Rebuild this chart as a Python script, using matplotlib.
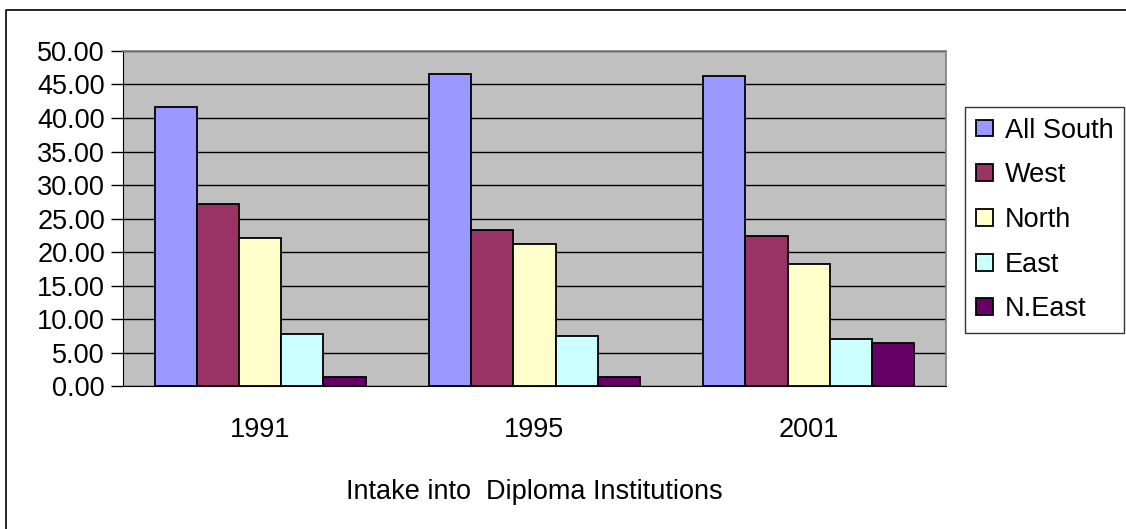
#/usr/bin/python

import matplotlib
matplotlib.use('Agg')
import matplotlib.pyplot as plt
from matplotlib.lines import Line2D
import numpy as np

plt.rcParams['font.family'] = ['Liberation Sans', 'DejaVu Sans']

years = ['1991', '1995', '2001']
series = ['All South', 'West', 'North', 'East', 'N.East']
all_south = [41.6, 46.6, 46.25]
west = [27.1, 23.25, 22.35]
north = [22.05, 21.25, 18.25]
east = [7.8, 7.5, 6.95]
neast = [1.35, 1.35, 6.4]
colors = ['#9999FF', '#993366', '#FFFFCC', '#CCFFFF', '#660066']

values = [all_south, west, north, east, neast]
fs = 19.5

fig = plt.figure(figsize=(11.26, 5.29), dpi=100)
# chart area border (only top and left visible in the crop)
fig.lines.append(Line2D([0.0053, 0.0053, 1.0], [0.0, 0.981, 0.981], transform=fig.transFigure,
                        color='black', linewidth=1.2))
ax = fig.add_axes([0.1092, 0.2703, 0.7309, 0.6333])
ax.set_facecolor('#C0C0C0')

x = np.arange(len(years))
w = 0.77 / 5
for i in range(len(series)):
	ax.bar(x - 0.385 + w * (i + 0.5), values[i], w, color=colors[i],
	       edgecolor='black', linewidth=1.3, label=series[i], zorder=3)

ax.set_xlim(-0.5, 2.5)
ax.set_ylim(0, 50)
ax.set_yticks(np.arange(0, 51, 5))
ax.set_yticklabels(['%.2f' % v for v in np.arange(0, 51, 5)], fontsize=fs)
ax.set_xticks(x)
ax.set_xticklabels(years, fontsize=fs)
ax.tick_params(axis='x', length=0, pad=22)
ax.tick_params(axis='y', length=9, width=1, pad=4, direction='out')
ax.yaxis.grid(True, color='black', linewidth=1)
ax.set_axisbelow(True)
for s in ['top', 'right']:
	ax.spines[s].set_color('#808080')
	ax.spines[s].set_linewidth(1.2)
ax.spines['left'].set_color('black')
ax.spines['bottom'].set_color('black')
ax.set_xlabel('Intake into  Diploma Institutions', fontsize=fs, labelpad=26)

leg = fig.legend(loc='upper left', bbox_to_anchor=(0.857, 0.7977), fontsize=fs,
                 frameon=True, fancybox=False, edgecolor='black', handlelength=0.63,
                 handleheight=0.58, handletextpad=0.44, labelspacing=0.69, borderpad=0.39,
                 borderaxespad=0)
leg.get_frame().set_linewidth(1.0)

plt.savefig('out.png', format='png', dpi=100)
